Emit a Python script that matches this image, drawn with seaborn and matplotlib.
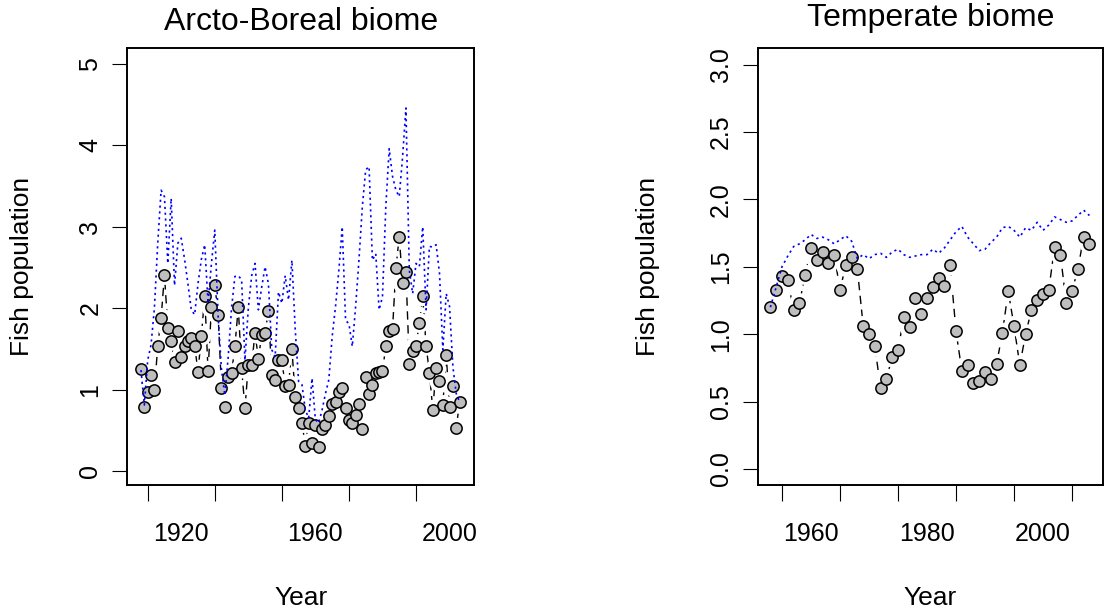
import matplotlib
matplotlib.use("Agg")
import matplotlib.pyplot as plt
import pandas as pd
import seaborn as sns

# ---------------- data ----------------
boreal_years = list(range(1908, 2004))
boreal_observed = [
    1.25, 0.79, 0.97, 1.18, 0.99, 1.54, 1.88, 2.41, 1.76, 1.60,
    1.34, 1.72, 1.40, 1.53, 1.60, 1.64, 1.54, 1.22, 1.66, 2.15,
    1.23, 2.01, 2.29, 1.92, 1.02, 0.79, 1.16, 1.20, 1.53, 2.01,
    1.26, 0.77, 1.30, 1.30, 1.70, 1.38, 1.67, 1.70, 1.97, 1.18,
    1.12, 1.36, 1.36, 1.04, 1.06, 1.50, 0.91, 0.77, 0.59, 0.31,
    0.59, 0.35, 0.56, 0.29, 0.51, 0.56, 0.67, 0.82, 0.85, 0.97,
    1.02, 0.77, 0.63, 0.59, 0.69, 0.82, 0.51, 1.16, 0.95, 1.06,
    1.21, 1.22, 1.23, 1.53, 1.72, 1.74, 2.49, 2.88, 2.31, 2.44,
    1.32, 1.48, 1.54, 1.82, 2.15, 1.54, 1.21, 0.75, 1.26, 1.10,
    0.81, 1.43, 0.79, 1.04, 0.53, 0.85,
]
boreal_model = [
    1.24, 0.81, 1.36, 1.55, 2.00, 2.80, 3.45, 3.37, 2.55, 3.35,
    2.28, 2.80, 2.86, 2.60, 2.30, 1.98, 1.92, 2.30, 2.60, 2.78,
    2.06, 2.55, 2.96, 1.90, 1.25, 0.93, 1.40, 2.00, 2.39, 2.40,
    2.35, 1.36, 2.00, 2.40, 2.55, 1.98, 2.26, 2.51, 2.30, 1.49,
    1.40, 2.20, 2.06, 2.40, 2.10, 2.59, 1.73, 1.10, 1.06, 0.75,
    0.65, 1.14, 0.63, 0.59, 0.75, 0.95, 1.12, 1.65, 2.02, 2.47,
    3.00, 1.85, 1.81, 1.53, 2.02, 2.60, 3.25, 3.70, 3.74, 2.59,
    2.67, 1.98, 2.14, 3.25, 3.96, 3.62, 3.45, 3.37, 3.86, 4.46,
    2.47, 2.18, 2.55, 2.51, 3.00, 1.98, 2.76, 2.75, 2.78, 2.43,
    1.49, 2.18, 2.02, 1.28, 0.95, 0.85,
]

temperate_years = list(range(1953, 2009))
temperate_observed = [
    1.20, 1.33, 1.43, 1.40, 1.18, 1.23, 1.44, 1.64, 1.55, 1.61,
    1.53, 1.59, 1.33, 1.51, 1.57, 1.48, 1.06, 1.00, 0.91, 0.60,
    0.67, 0.83, 0.88, 1.13, 1.05, 1.27, 1.15, 1.27, 1.35, 1.42,
    1.36, 1.51, 1.02, 0.73, 0.77, 0.64, 0.65, 0.72, 0.67, 0.78,
    1.01, 1.32, 1.06, 0.77, 1.00, 1.18, 1.25, 1.30, 1.33, 1.65,
    1.59, 1.23, 1.32, 1.48, 1.72, 1.67,
]
temperate_model = [
    1.20, 1.35, 1.50, 1.58, 1.65, 1.67, 1.70, 1.74, 1.71, 1.72,
    1.70, 1.67, 1.70, 1.73, 1.69, 1.56, 1.59, 1.56, 1.59, 1.60,
    1.57, 1.61, 1.63, 1.59, 1.57, 1.58, 1.59, 1.59, 1.63, 1.60,
    1.64, 1.70, 1.76, 1.80, 1.72, 1.67, 1.62, 1.63, 1.68, 1.72,
    1.79, 1.80, 1.77, 1.72, 1.79, 1.77, 1.83, 1.77, 1.81, 1.87,
    1.85, 1.83, 1.84, 1.88, 1.92, 1.88,
]

boreal_tick_marks = [1910, 1930, 1950, 1970, 1990]
boreal_tick_labels = ["1920", "1960", "2000"]
boreal_label_years = [1920, 1960, 2000]
boreal_yticks = [0, 1, 2, 3, 4, 5]
boreal_ytick_labels = ["0", "1", "2", "3", "4", "5"]

temperate_tick_marks = [1955, 1965, 1975, 1985, 1995, 2005]
temperate_tick_labels = ["1960", "1980", "2000"]
temperate_label_years = [1960, 1980, 2000]
temperate_yticks = [0.0, 0.5, 1.0, 1.5, 2.0, 2.5, 3.0]
temperate_ytick_labels = ["0.0", "0.5", "1.0", "1.5", "2.0", "2.5", "3.0"]

titles = ["Arcto-Boreal biome", "Temperate biome"]
x_label = "Year"
y_label = "Fish population"

# ---------------- style ----------------
sns.set_theme(style="ticks")
plt.rcParams["font.family"] = ["Liberation Sans", "DejaVu Sans"]
plt.rcParams["axes.linewidth"] = 1.4

W, H = 1106, 614
fig = plt.figure(figsize=(W / 100, H / 100), dpi=100)
fig.patch.set_facecolor("white")


def px_axes(left, top, right, bottom):
    return fig.add_axes([left / W, 1 - bottom / H, (right - left) / W, (bottom - top) / H])


ax1 = px_axes(127.3, 48, 474, 485)
ax2 = px_axes(757.7, 48, 1103, 485)


def draw_panel(ax, years, observed, model, xlim, ylim, tick_marks, label_years,
               tick_labels, yticks, ytick_labels, title, title_pad):
    df = pd.DataFrame({"year": years, "observed": observed, "model": model})
    # dashed connector (R type = "b": line broken around the points)
    sns.lineplot(data=df, x="year", y="observed", ax=ax, color="black",
                 linewidth=1.0, linestyle=(0, (6, 4)), zorder=2)
    sns.scatterplot(data=df, x="year", y="observed", ax=ax, s=210,
                    color="white", edgecolor="none", linewidth=0, zorder=2.5)
    sns.scatterplot(data=df, x="year", y="observed", ax=ax, s=66,
                    color="#BEBEBE", edgecolor="black", linewidth=1.1, zorder=3)
    sns.lineplot(data=df, x="year", y="model", ax=ax, color="#0000FF",
                 linewidth=1.2, linestyle=(0, (1.3, 2.2)), zorder=4)
    ax.set_xlim(*xlim)
    ax.set_ylim(*ylim)
    for sp in ax.spines.values():
        sp.set_visible(True)
        sp.set_color("black")
        sp.set_linewidth(1.4)
        sp.set_zorder(5)
    ax.set_facecolor("white")
    ax.grid(False)
    ax.set_xticks(tick_marks, labels=[""] * len(tick_marks))
    ax.set_xticks(label_years, labels=tick_labels, minor=True)
    ax.tick_params(axis="x", which="major", length=11.5, width=0.8,
                   color="black", direction="out")
    ax.tick_params(axis="x", which="minor", length=0, pad=26.5,
                   labelsize=18, labelcolor="black")
    ax.set_yticks(yticks)
    ax.set_yticklabels(ytick_labels, rotation=90, va="center")
    ax.tick_params(axis="y", length=11, width=0.8, color="black",
                   direction="out", pad=7, labelsize=18, labelcolor="black")
    ax.set_xlabel(x_label, fontsize=19, color="black")
    ax.xaxis.label.set_va("center")
    ax.xaxis.set_label_coords(0.5, -0.2586)
    ax.set_ylabel(y_label, fontsize=19, color="black")
    ax.yaxis.label.set_va("center")
    ax.set_title(title, fontsize=23, pad=title_pad, color="black")


draw_panel(ax1, boreal_years, boreal_observed, boreal_model,
           (1903.92, 2007.29), (-0.172, 5.197),
           boreal_tick_marks, boreal_label_years, boreal_tick_labels,
           boreal_yticks, boreal_ytick_labels, titles[0], 13)
ax1.yaxis.set_label_coords((22 - 127.3) / 346.7, 0.5)

draw_panel(ax2, temperate_years, temperate_observed, temperate_model,
           (1950.81, 2010.34), (-0.119, 3.123),
           temperate_tick_marks, temperate_label_years, temperate_tick_labels,
           temperate_yticks, temperate_ytick_labels, titles[1], 16)
ax2.yaxis.set_label_coords((648 - 757.7) / 345.3, 0.5)

fig.savefig("out.png", dpi=100, facecolor="white")
